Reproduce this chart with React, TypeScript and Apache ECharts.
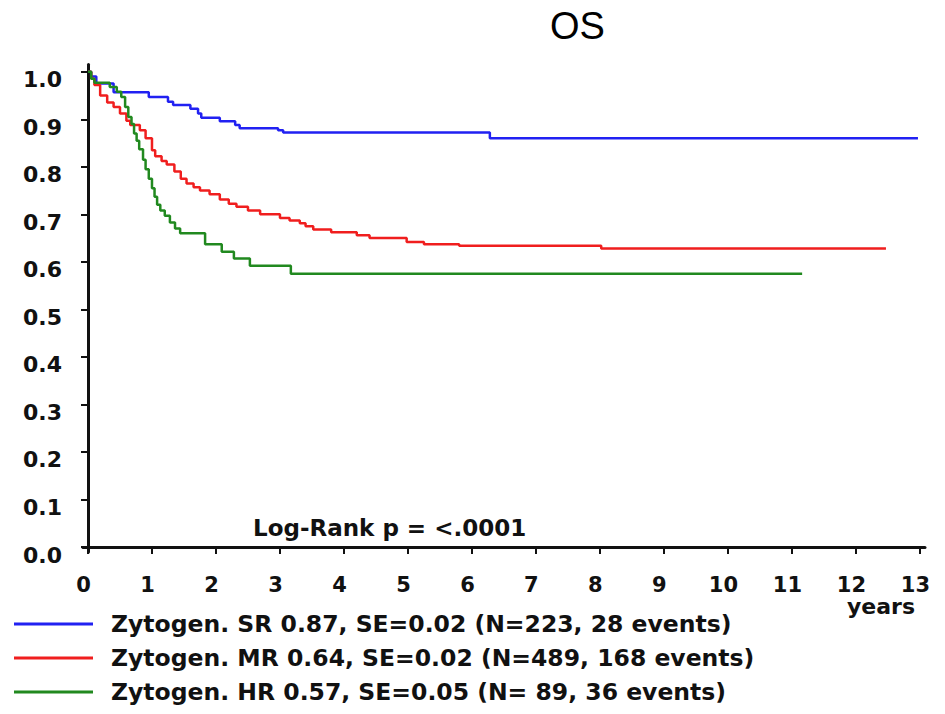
import React, { useEffect, useRef } from "react";
import * as echarts from "echarts";

const xTicks = [0, 1, 2, 3, 4, 5, 6, 7, 8, 9, 10, 11, 12, 13];
const yTicks = [0, 0.1, 0.2, 0.3, 0.4, 0.5, 0.6, 0.7, 0.8, 0.9, 1.0];

const seriesNames = [
  "Zytogen. SR 0.87, SE=0.02 (N=223, 28 events)",
  "Zytogen. MR 0.64, SE=0.02 (N=489, 168 events)",
  "Zytogen. HR 0.57, SE=0.05 (N= 89, 36 events)",
];
const seriesColors = ["#2121f2", "#f01e1e", "#21891f"];

const srTime = [0, 0.05, 0.13, 0.4, 0.95, 1.25, 1.33, 1.6, 1.72, 1.77, 2.06, 2.3, 2.37, 2.97, 3.05, 6.28, 12.97];
const srSurv = [1.0, 0.99, 0.975, 0.957, 0.947, 0.937, 0.93, 0.922, 0.912, 0.903, 0.896, 0.888, 0.881, 0.877, 0.872, 0.86, 0.86];

const mrTime = [0, 0.05, 0.1, 0.19, 0.3, 0.4, 0.5, 0.6, 0.66, 0.81, 0.9, 1.0, 1.05, 1.15, 1.23, 1.35, 1.45, 1.54, 1.65, 1.75, 1.9, 2.06, 2.2, 2.32, 2.5, 2.69, 3.0, 3.15, 3.31, 3.4, 3.52, 3.8, 4.2, 4.4, 4.98, 5.25, 5.8, 8.02, 12.47];
const mrSurv = [1.0, 0.985, 0.972, 0.95, 0.935, 0.926, 0.912, 0.897, 0.888, 0.877, 0.86, 0.835, 0.822, 0.812, 0.805, 0.79, 0.775, 0.765, 0.757, 0.75, 0.742, 0.731, 0.722, 0.716, 0.708, 0.7, 0.692, 0.687, 0.681, 0.675, 0.668, 0.662, 0.656, 0.65, 0.642, 0.637, 0.634, 0.628, 0.628];

const hrTime = [0, 0.05, 0.1, 0.34, 0.45, 0.52, 0.58, 0.63, 0.68, 0.72, 0.76, 0.8, 0.86, 0.9, 0.95, 1.0, 1.04, 1.08, 1.13, 1.2, 1.28, 1.36, 1.44, 1.83, 2.09, 2.28, 2.53, 3.17, 11.16];
const hrSurv = [1.0, 0.985, 0.977, 0.968, 0.958, 0.947, 0.926, 0.905, 0.89, 0.87, 0.855, 0.837, 0.815, 0.795, 0.775, 0.755, 0.737, 0.72, 0.708, 0.697, 0.683, 0.67, 0.66, 0.637, 0.621, 0.607, 0.592, 0.575, 0.575];

const titleText = "OS";
const testText = "Log-Rank p = <.0001";
const xName = "years";

const zip = (t: number[], s: number[]) => t.map((v, i) => [v, s[i]]);

export default function App() {
  const ref = useRef<HTMLDivElement>(null);
  useEffect(() => {
    if (!ref.current) return;
    const chart = echarts.init(ref.current, null, { renderer: "svg" });
    const bold = "DejaVu Sans";
    const data = [zip(srTime, srSurv), zip(mrTime, mrSurv), zip(hrTime, hrSurv)];
    chart.setOption({
      animation: false,
      backgroundColor: "#ffffff",
      title: {
        text: titleText,
        left: 545,
        top: 2,
        textStyle: { fontFamily: "Liberation Sans", fontSize: 38, fontWeight: "normal", color: "#000" },
      },
      grid: { left: 83, right: 20, top: 64.6, bottom: 162, outerBoundsMode: "none", containLabel: false },
      xAxis: {
        type: "value",
        min: -0.078,
        max: 13.08,
        name: xName,
        nameLocation: "end",
        nameGap: -10,
        nameTextStyle: {
          fontFamily: bold,
          fontWeight: "bold",
          fontSize: 22,
          color: "#111",
          align: "right",
          verticalAlign: "top",
          padding: [48, 0, 0, 0],
        },
        axisLine: { show: true, lineStyle: { color: "#111", width: 3 } },
        axisTick: { show: true, customValues: xTicks, length: 7, lineStyle: { color: "#111", width: 2 } },
        axisLabel: {
          customValues: xTicks,
          margin: 22,
          fontFamily: bold,
          fontWeight: "bold",
          fontSize: 21,
          color: "#111",
          padding: [0, 9, 0, 0],
        },
        splitLine: { show: false },
      },
      yAxis: {
        type: "value",
        min: -0.0105,
        max: 1.015,
        axisLine: { show: true, lineStyle: { color: "#111", width: 3 } },
        axisTick: { show: true, customValues: yTicks, length: 7, lineStyle: { color: "#111", width: 2 } },
        axisLabel: {
          customValues: yTicks,
          margin: 21,
          fontFamily: bold,
          fontWeight: "bold",
          fontSize: 22,
          lineHeight: 16,
          verticalAlign: "top",
          color: "#111",
          formatter: (v: number) => v.toFixed(1),
        },
        splitLine: { show: false },
      },
      legend: {
        show: true,
        orient: "vertical",
        left: 14,
        top: 612,
        padding: 0,
        icon: "rect",
        itemWidth: 79,
        itemHeight: 3,
        itemGap: 10,
        selectedMode: false,
        data: seriesNames,
        textStyle: {
          fontFamily: bold,
          fontWeight: "bold",
          fontSize: 23.5,
          lineHeight: 24,
          color: "#111",
          padding: [0, 0, 0, 13],
        },
      },
      graphic: [
        {
          type: "text",
          left: 253,
          top: 516,
          style: {
            text: testText,
            fontFamily: bold,
            fontWeight: "bold",
            fontSize: 23,
            fill: "#111",
          },
        },
      ],
      series: data.map((d, i) => ({
        type: "line",
        name: seriesNames[i],
        data: d,
        step: "end",
        showSymbol: false,
        symbol: "none",
        color: seriesColors[i],
        lineStyle: { color: seriesColors[i], width: 2.5 },
        itemStyle: { color: seriesColors[i] },
      })),
    });
    return () => chart.dispose();
  }, []);
  return (
    <div
      ref={ref}
      style={{ position: "fixed", left: 0, top: 0, width: 945, height: 714, background: "#fff" }}
    />
  );
}
